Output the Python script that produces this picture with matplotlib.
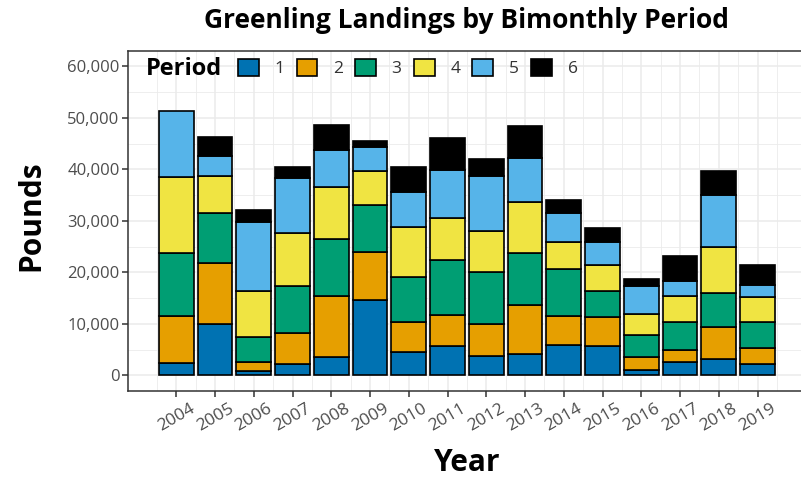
import matplotlib.pyplot as plt
from matplotlib.ticker import FuncFormatter, MultipleLocator

YEARS = list(range(2004, 2020))

# pounds landed in each bimonthly period, per year
P1 = [2400, 9900, 800, 2100, 3500, 14600, 4500, 5700, 3700, 4200, 5900, 5700, 1000, 2600, 3100, 2100]
P2 = [9100, 12000, 1800, 6200, 11900, 9300, 5800, 6000, 6300, 9500, 5600, 5700, 2600, 2400, 6300, 3100]
P3 = [12200, 9700, 4900, 9000, 11100, 9200, 8700, 10600, 10100, 10000, 9100, 4900, 4300, 5300, 6600, 5100]
P4 = [14900, 7100, 8800, 10300, 10000, 6600, 9800, 8200, 8000, 9900, 5300, 5100, 4000, 5100, 8900, 4900]
P5 = [12800, 3900, 13400, 10700, 7200, 4700, 6800, 9400, 10700, 8700, 5600, 4500, 5400, 3000, 10100, 2400]
P6 = [0, 3600, 2400, 2200, 4900, 1200, 4900, 6100, 3200, 6200, 2600, 2700, 1400, 4800, 4600, 3800]

PERIODS = ["1", "2", "3", "4", "5", "6"]
COLORS = ["#0072B2", "#E69F00", "#009E73", "#F0E442", "#56B4E9", "#000000"]

plt.rcParams["font.family"] = ["Open Sans", "DejaVu Sans"]

W, H = 801, 480
fig = plt.figure(figsize=(W / 100, H / 100), dpi=100)
left, right, top, bottom = 128, 805.8, 51, 390.7
ax = fig.add_axes([left / W, 1 - bottom / H, (right - left) / W, (bottom - top) / H])

base = [0] * len(YEARS)
for vals, color, label in zip([P1, P2, P3, P4, P5, P6], COLORS, PERIODS):
    # years with nothing landed in a period get no bar at all
    xs = [y for y, v in zip(YEARS, vals) if v > 0]
    hs = [v for v in vals if v > 0]
    bs = [b for b, v in zip(base, vals) if v > 0]
    ax.bar(xs, hs, 0.9, bottom=bs, color=color, edgecolor="black",
           linewidth=1.2, label=label, zorder=3)
    base = [b + v for b, v in zip(base, vals)]

ax.set_xlim(2002.755, 2020.245)
ax.set_xticks(YEARS)
ax.set_xticks([y + 0.5 for y in YEARS[:-1]] + [YEARS[0] - 0.5, YEARS[-1] + 0.5], minor=True)
ax.yaxis.set_major_locator(MultipleLocator(10000))
ax.yaxis.set_minor_locator(MultipleLocator(5000))
ax.set_ylim(-3000, 63000)
ax.yaxis.set_major_formatter(FuncFormatter(lambda v, p: f"{int(v):,}"))

ax.grid(which="major", color="#ebebeb", linewidth=1.1, zorder=0)
ax.grid(which="minor", color="#ebebeb", linewidth=0.6, zorder=0)
ax.set_axisbelow(True)
for s in ax.spines.values():
    s.set_color("#333333")
    s.set_linewidth(1.1)
ax.tick_params(which="major", length=4, width=1.1, color="#333333",
               labelcolor="#4d4d4d", labelsize=12, pad=2)
ax.tick_params(axis="x", which="major", labelsize=12.5, pad=3)
ax.tick_params(which="minor", length=0)
for lab in ax.get_xticklabels():
    lab.set_rotation(30)
    lab.set_ha("center")

cx = (left + right) / 2 / W
fig.text(cx, 1 - 20 / H, "Greenling Landings by Bimonthly Period",
         ha="center", va="center", fontsize=19, fontweight="bold")
fig.text(cx, 1 - 463 / H, "Year", ha="center", va="center",
         fontsize=21.5, fontweight="bold")
fig.text(31 / W, 1 - 216 / H, "Pounds", ha="center", va="center",
         rotation=90, fontsize=21.5, fontweight="bold")

fig.text(146 / W, 1 - 69 / H, "Period", ha="left", va="center",
         fontsize=17, fontweight="bold")
ax.legend(loc="center left", bbox_to_anchor=(238 / W, 1 - 68 / H),
          bbox_transform=fig.transFigure, ncol=6, frameon=False,
          fontsize=12.5, labelcolor="#333333", borderpad=0, borderaxespad=0,
          handlelength=1.2, handleheight=1.2, handletextpad=0.9,
          columnspacing=0.7)

fig.savefig("out.png", dpi=100)
